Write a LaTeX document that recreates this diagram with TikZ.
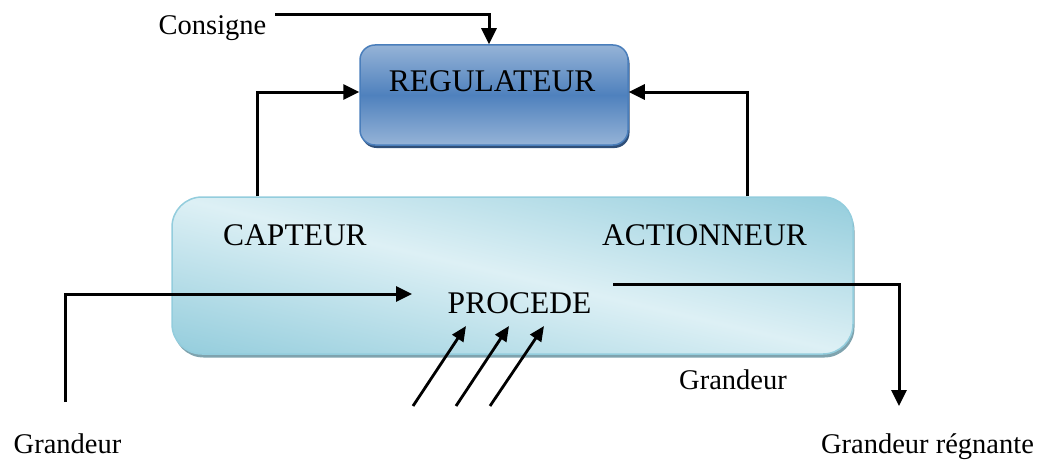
\documentclass[tikz,border=0pt]{standalone}
\usepackage{fontspec}
\setmainfont{Liberation Serif}
\usetikzlibrary{arrows.meta,shadows}
\definecolor{regmid}{HTML}{4F81BD}
\definecolor{reglight}{HTML}{95B3D7}
\definecolor{regborder}{HTML}{4A7EBB}
\definecolor{regshadow}{HTML}{2F4F78}
\definecolor{procdark}{HTML}{90CBDB}
\definecolor{proclight}{HTML}{DDF0F5}
\definecolor{procborder}{HTML}{93CDDD}
\definecolor{procshadow}{HTML}{7FA3AE}
\begin{document}
\begin{tikzpicture}[x=1pt,y=-1pt,
  bigtxt/.style={font=\fontsize{31.5}{36}\selectfont, anchor=base, inner sep=0pt},
  smalltxt/.style={font=\fontsize{28.5}{32}\selectfont, anchor=base, inner sep=0pt},
  regbox/.style={rounded corners=15pt, draw=regborder, line width=1.5pt,
    top color=reglight, bottom color=reglight, middle color=regmid,
    drop shadow={shadow xshift=1.5pt, shadow yshift=-3pt, fill=regshadow, opacity=1},
    inner sep=0pt},
  procbox/.style={rounded corners=30pt, draw=procborder, line width=1.5pt,
    inner sep=0pt},
  conn/.style={line width=3pt, -{Triangle[length=16pt,width=15pt]}},
  thinconn/.style={line width=2.8pt, -{Triangle[length=15pt,width=13pt]}}
]
\useasboundingbox (0,0) rectangle (1039,460);

% lower box: shadow, diagonal shading, outline
\fill[procshadow, rounded corners=30pt] (173.5,200.5) rectangle (854.5,357.5);
\begin{scope}
  \clip[rounded corners=30pt] (172,197) rectangle (853,354);
  \shade[transform canvas={rotate around={-13:(512.5,275.5)}},
    top color=procdark, bottom color=procdark, middle color=proclight]
    (130,115) rectangle (895,436);
\end{scope}
\node[procbox, minimum width=681pt, minimum height=157pt] (proc) at (512.5,275.5) {};

% upper box
\node[regbox, minimum width=268pt, minimum height=100pt] (reg) at (494,95) {};

% texts
\node[smalltxt] (tCons) at (212.5,35) {Consigne};
\node[bigtxt] (tReg) at (492,92) {REGULATEUR};
\node[bigtxt] (tCapt) at (295,245) {CAPTEUR};
\node[bigtxt] (tAct) at (704.5,245) {ACTIONNEUR};
\node[bigtxt] (tProc) at (519.5,313) {PROCEDE};
\node[smalltxt] (tGmid) at (733,389) {Grandeur};
\node[smalltxt] (tGleft) at (67.5,453) {Grandeur};
\node[smalltxt] (tGreg) at (927.5,453) {Grandeur régnante};

% coordinates
\coordinate (cs) at (275,15);
\coordinate (lfx) at (257,0);
\coordinate (rfx) at (747,0);
\coordinate (inS) at (65,402);
\coordinate (inE) at (412,294);
\coordinate (outS) at (613,284);
\coordinate (outE) at (899,406);
\coordinate (d1s) at (413,406);
\coordinate (d1e) at (466,326);
\coordinate (d2s) at (456,406);
\coordinate (d2e) at (509,326);
\coordinate (d3s) at (490,406);
\coordinate (d3e) at (544,326);

% connectors
\draw[conn] (cs) -| ([xshift=-5pt]reg.north);
\draw[conn] (proc.north -| lfx) |- ([yshift=3pt]reg.west);
\draw[conn] (proc.north -| rfx) |- ([yshift=3pt]reg.east);
\draw[conn] (inS) |- (inE);
\draw[conn] (outS) -| (outE);
\draw[thinconn] (d1s) -- (d1e);
\draw[thinconn] (d2s) -- (d2e);
\draw[thinconn] (d3s) -- (d3e);
\end{tikzpicture}
\end{document}
